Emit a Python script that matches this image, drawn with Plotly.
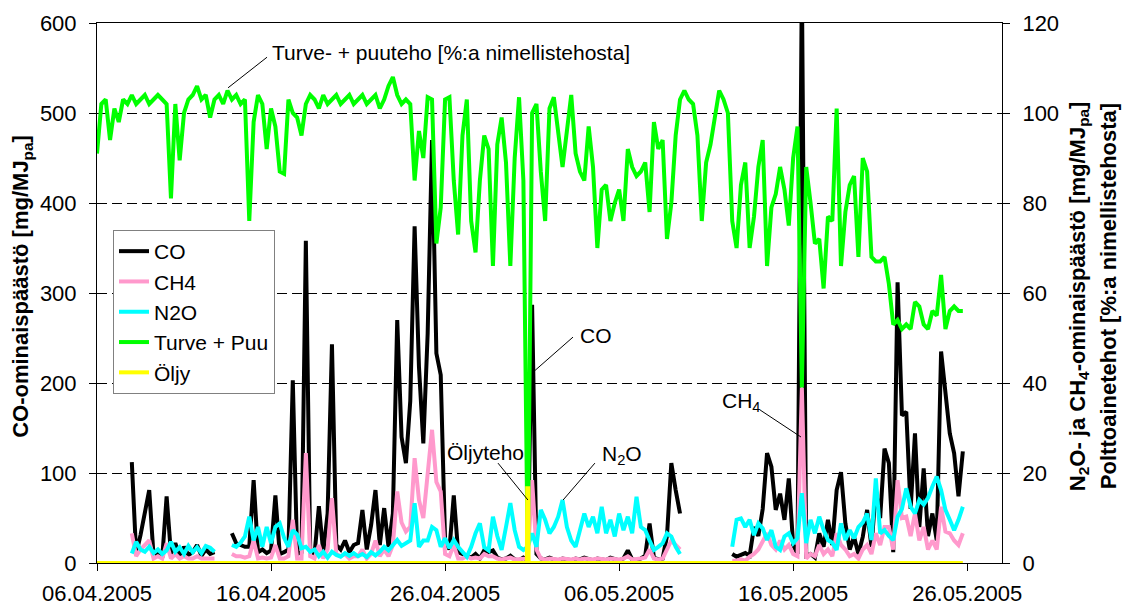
import pandas as pd
import plotly.graph_objects as go

FONT = "Liberation Sans, Arial, sans-serif"
start = pd.Timestamp("2005-04-06")
# 6-hourly time base (06.04.2005 00:00 ... 25.05.2005 18:00)
time = pd.date_range(start, periods=200, freq="6h")

N = None
# Turve + Puu  [% of nominal]  (4 values per day)
turve_puu = [
    91, 102, 103, 94,   101, 98, 103, 102,   104, 102, 103, 104,   102, 103, 104, 103,
    102, 81, 102, 89.5, 100, 103, 104, 106,  103, 104, 99, 103,    104, 102, 105, 103,
    104, 102, 103, 76,  98, 104, 102, 92,    101, 97, 87, 86.5,    103, 100, 99, 95,
    102, 104, 103, 101, 104, 102, 103, 104,  102, 103, 104, 102,   103, 104, 102, 103,
    104, 101, 103, 106, 108, 104, 102, 103,  102, 85, 96, 90,      103.5, 103, 71, 79,
    103, 103.5, 85, 73, 95, 103, 76, 69,     85, 95, 92, 66,       93, 99, 89, 66,
    90, 103.5, 85, 0,   100, 102, 87, 76,    101, 103.5, 96, 88,   96, 104, 91, 87,
    85, 97, 88, 70,     83, 84, 76, 80,      83, 76, 92, 88,       86, 87, 89, 78,
    98, 92, 94, 72,     80, 95, 103, 105,    103, 102, 95, 76,     89, 93, 99, 105,
    103, 100, 76, 70,   84, 89, 70, 77,      88, 94, 66, 79,       82, 88, 83, 75,
    90, 97, 39, 88,     80, 71, 72, 61,      77, 76, 101, 66,      78, 84, 86, 68,
    90, 87, 68, 67,     67, 68, 62, 53,      54, 52, 53, 52,       58, 57, 53, 52,
    56, 55, 64, 52,     56, 57, 56, 56,
]

# CO [mg/MJpa] (left axis)
co = [
    N, N, N, N,         N, N, N, N,          112, 10, 31, 59,      81, 8, 12, 6,
    74, 10, 22, 8,      18, 9, 12, 20,       8, 15, 10, 12,        N, N, N, 33,
    22, 20, 18, 18,     92, 12, 15, 11,      14, 75, 10, 12,       15, 203, 10, 12,
    358, 15, 10, 63,    12, 55, 243, 20,     15, 25, 12, 20,       22, 59, 15, 42,
    81, 20, 61, 18,     55, 270, 140, 111,   180, 374, 218, 133,   255, 470, 233, 209,
    25, 15, 75, 12,     10, 8, 6, 10,        5, 14, 12, 14,        6, 4, 5, 8,
    4, 3, 6, 3,         287, 10, 5, 4,       6, 4, 3, 5,           4, 3, 5, 4,
    6, 4, 3, 5,         4, 3, 6, 4,          3, 5, 14, 4,          3, 5, 8, 44,
    6, 4, 5, 30,        111, 81, 55, N,      N, N, N, N,           N, N, N, N,
    N, N, 10, 7,        9, 11, 8, 40,        30, 60, 122, 107,     59, 77, 48, 94,
    20, 10, 650, 8,     10, 6, 33, 18,       48, 20, 81, 101,      44, 15, 29, 10,
    29, 59, 18, 81,     50, 127, 111, 12,    312, 164, 168, 60,    144, 40, 105, 30,
    55, 25, 235, 192,   144, 122, 74, 124,
]

# CH4 [mg/MJpa] (right axis)
ch4 = [
    N, N, N, N,         N, N, N, N,          6.6, 1.5, 3, 4,       5, 1, 1.5, 1,
    4.4, 1, 2, 1,       1.5, 1, 1, 1.5,      1, 1, 1, 1,           N, N, N, 2,
    1.5, 1.5, 1.2, 1.5, 5, 1, 1.2, 1,        1.2, 4, 1, 1,         1.5, 9.6, 1, 1,
    24.4, 1.5, 1, 4,    1, 3, 14.4, 2,       1.5, 2, 1, 1.5,       1.5, 3, 1, 2,
    5, 1.5, 3, 1.5,     4, 15.9, 9, 7,       8, 23.3, 14, 10,      20, 29.6, 18, 15.9,
    2, 1.5, 4, 1,       1, 1.5, 1, 1.2,      1, 2, 1.5, 1.5,       1, 0.8, 1, 1.2,
    0.8, 0.8, 1, 1,     18.4, 3, 1, 0.8,     1, 0.8, 0.8, 1,       0.8, 0.8, 1, 0.8,
    1, 0.8, 0.8, 1,     0.8, 0.8, 1, 0.8,    0.8, 1, 1.5, 0.8,     0.8, 1, 1.2, 3,
    1, 0.8, 1, 3,       5, 4, 3, N,          N, N, N, N,           N, N, N, N,
    N, N, 0.5, 0.5,     0.8, 0.5, 1.4, 2,    3, 5, 6.6, 4,         3, 5, 3, 4,
    2, 1.5, 39, 1,      2, 1.5, 4, 2,        3, 1.5, 6.6, 4,       3, 1.5, 2, 1,
    3, 4, 2, 6.6,       4, 8, 8, 3,          18.4, 10, 10.3, 6,    11, 5, 8, 3,
    5, 3, 12.5, 7,      6.6, 5, 4, 6.6,
]

# N2O [mg/MJpa] (right axis)
n2o = [
    N, N, N, N,         N, N, N, N,          2.1, 4.7, 3, 2.5,     3.6, 2.2, 3, 2,
    2.8, 4.7, 2.5, 3.5, 2, 3.8, 2.4, 3.5,    2.2, 3.8, 3.4, 2.5,   N, N, N, 4,
    3.6, 4.5, 5.9, 10.3, 5, 8, 3.6, 8,       4.4, 8, 8.8, 5.6,     3.6, 7.3, 6.3, 3.3,
    3.6, 2.5, 3, 1.5,   2.5, 1.2, 2.5, 1.8,  1.4, 2.2, 1.6, 2.2,   1.5, 2, 1.3, 2.4,
    1.7, 2.5, 3.6, 2.8, 4, 5.1, 3.8, 4.4,    5, 13.3, 3.6, 5,      5, 8, 7.3, 3.6,
    5.5, 3.3, 5.1, 3.6, 2.5, 1.4, 3.6, 6.6,  8.8, 3.5, 2.8, 10.3,  6, 2.9, 8, 13.3,
    7.3, 3.6, 2.9, 3.6, 6.6, 3.6, 11.8, 9.6, 6.6, 8, 10.3, 14,     8, 5, 3.6, 7.3,
    11, 8, 10.3, 6.6,   12.5, 6.6, 9.6, 5.9, 11, 7.3, 10.3, 6.6,   14.7, 8, 7.3, 5,
    2.9, 3.6, 4.4, 6.6, 5.9, 3.6, 2, N,      N, N, N, N,           N, N, N, N,
    N, N, 3.6, 9.6,     9.9, 8, 9.6, 6.2,    8.8, 7.7, 5.1, 7.3,   3.6, 2.9, 5.9, 6.6,
    4.4, 5.5, 15.5, 4.4, 9.6, 6.6, 10.3, 7.3, 5.1, 4.5, 2.9, 8.8,  5.1, 7.3, 5.5, 8,
    9, 11, 5.1, 18.8,   6.6, 7.3, 6, 5.1,    10.3, 12, 16.6, 12.5, 11, 14, 13, 14.5,
    17, 19.2, 16.2, 11.8, 9.6, 7.3, 9.6, 12.5,
]

# Öljy (oil) power [% of nominal]
oljy_time = ["2005-04-06 00:00", "2005-04-30 16:48", "2005-04-30 17:17",
             "2005-04-30 18:43", "2005-04-30 19:12", "2005-05-25 18:00"]
oljy = [0, 0, 16.6, 16.6, 0, 0]

x_ticks = ["2005-04-06", "2005-04-16", "2005-04-26", "2005-05-06", "2005-05-16", "2005-05-26"]
x_ticklabels = ["06.04.2005", "16.04.2005", "26.04.2005", "06.05.2005", "16.05.2005", "26.05.2005"]
y1_ticks = [0, 100, 200, 300, 400, 500, 600]
y2_ticks = [0, 20, 40, 60, 80, 100, 120]

LW = 4
fig = go.Figure()
fig.add_trace(go.Scatter(x=time, y=co, name="CO", mode="lines",
                         line=dict(color="#000000", width=LW), yaxis="y"))
fig.add_trace(go.Scatter(x=time, y=ch4, name="CH4", mode="lines",
                         line=dict(color="#FF99CC", width=LW), yaxis="y2"))
fig.add_trace(go.Scatter(x=time, y=n2o, name="N2O", mode="lines",
                         line=dict(color="#00FFFF", width=LW), yaxis="y2"))
fig.add_trace(go.Scatter(x=time, y=turve_puu, name="Turve + Puu", mode="lines",
                         line=dict(color="#00FF00", width=LW), yaxis="y2"))
fig.add_trace(go.Scatter(x=pd.to_datetime(oljy_time), y=oljy, name="Öljy", mode="lines",
                         line=dict(color="#FFFF00", width=LW), yaxis="y2"))


def at(d):
    return start + pd.Timedelta(days=d)


ann_font = dict(family=FONT, size=21, color="black")
labels = [
    ("Turve- + puuteho [%:a nimellistehosta]", 9.94, 567, (9.77, 562), (7.53, 528)),
    ("CO", 27.64, 253, (27.35, 251), (25.17, 214)),
    ("Öljyteho", 20.0, 123, (23.04, 111), (24.76, 70)),
    ("N<sub>2</sub>O", 28.9, 120, (28.61, 111), (26.78, 70)),
    ("CH<sub>4</sub>", 35.8, 179, (38.1, 170), (40.45, 140)),
]
annotations = []
shapes = []
for text, dx, vy, p0, p1 in labels:
    annotations.append(dict(text=text, x=at(dx), y=vy, xref="x", yref="y",
                            xanchor="left", yanchor="middle", showarrow=False,
                            font=ann_font))
    shapes.append(dict(type="line", xref="x", yref="y", x0=at(p0[0]), y0=p0[1],
                       x1=at(p1[0]), y1=p1[1], line=dict(color="black", width=1)))

title_font = dict(family=FONT, size=22, color="black")
annotations += [
    dict(text="<b>CO-ominaispäästö [mg/MJ<sub>pa</sub>]</b>", textangle=-90,
         x=-0.083, y=0.513, xref="paper", yref="paper", showarrow=False,
         xanchor="center", yanchor="middle", font=title_font),
    dict(text="<b>N<sub>2</sub>O- ja CH<sub>4</sub>-ominaispäästö [mg/MJ<sub>pa</sub>]</b>",
         textangle=-90, x=1.085, y=0.494, xref="paper", yref="paper", showarrow=False,
         xanchor="center", yanchor="middle", font=title_font),
    dict(text="<b>Polttoainetehot [%:a nimellistehosta]</b>",
         textangle=-90, x=1.117, y=0.494, xref="paper", yref="paper", showarrow=False,
         xanchor="center", yanchor="middle", font=title_font),
]

tick_font = dict(family=FONT, size=22, color="black")
fig.update_layout(
    width=1125, height=610,
    margin=dict(l=97, r=123, t=23, b=47, autoexpand=False),
    paper_bgcolor="white", plot_bgcolor="white",
    font=dict(family=FONT, color="black"),
    showlegend=True,
    legend=dict(x=(113 - 97) / 905, y=(563 - 230) / 540, xanchor="left", yanchor="top",
                bordercolor="#808080", borderwidth=1, bgcolor="white",
                font=dict(family=FONT, size=21, color="black"), itemwidth=30),
    xaxis=dict(type="date", range=["2005-04-06", "2005-05-28"],
               tickvals=x_ticks, ticktext=x_ticklabels, tickfont=tick_font,
               ticks="outside", ticklen=7, tickcolor="black", ticklabelstandoff=4,
               showline=True, linecolor="black", linewidth=1, mirror=True,
               showgrid=False, zeroline=False, automargin=False),
    yaxis=dict(range=[0, 600], tickvals=y1_ticks, tickfont=tick_font,
               ticks="outside", ticklen=7, tickcolor="black", ticklabelstandoff=8,
               showline=True, linecolor="black", linewidth=1,
               showgrid=True, gridcolor="black", griddash="10px,5px", gridwidth=1,
               zeroline=False, automargin=False),
    yaxis2=dict(range=[0, 120], tickvals=y2_ticks, tickfont=tick_font, overlaying="y",
                side="right", ticks="outside", ticklen=7, tickcolor="black",
                ticklabelstandoff=8,
                showline=True, linecolor="black", linewidth=1,
                showgrid=False, zeroline=False, automargin=False),
    annotations=annotations,
    shapes=shapes,
)

fig.write_html("out.html", config={"displayModeBar": False},
               post_script="document.body.style.margin='0';document.body.style.padding='0';")
